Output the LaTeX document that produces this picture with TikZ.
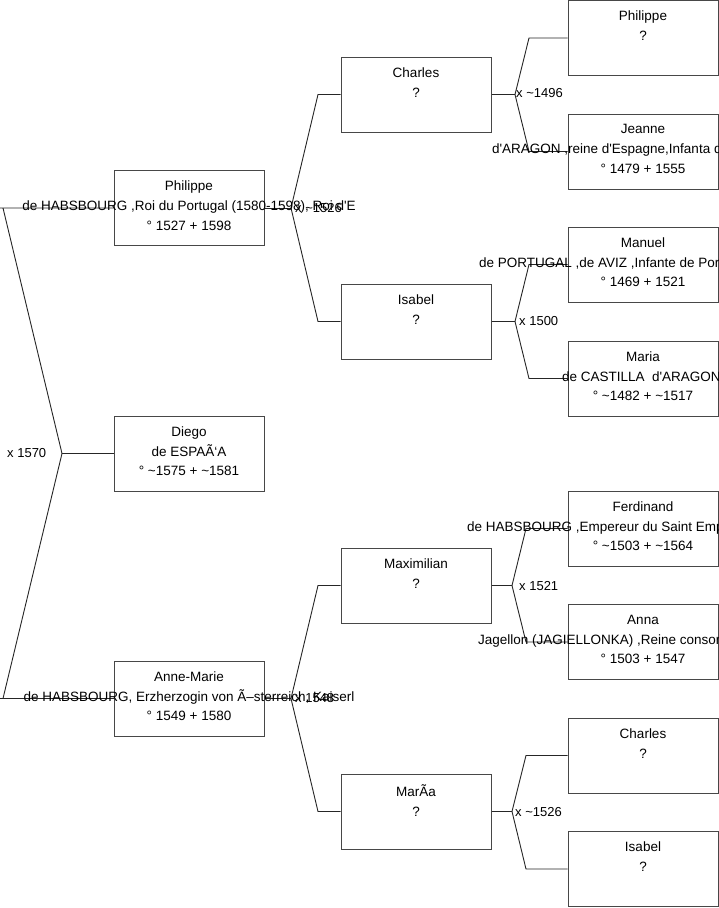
\documentclass[tikz,border=0pt]{standalone}
\usepackage{fontspec}
\setmainfont{Liberation Sans}[Ligatures=TeXOff]
\newcommand\tld{\textasciitilde}
\newcommand\lft[2]{\makebox[0pt][l]{\hspace*{#1}#2}}
\newcommand\ctr[1]{\makebox[0pt]{#1}}
\begin{document}
\begin{tikzpicture}[x=1pt,y=-1pt,
  box/.style={draw=black!72, line width=1pt, minimum width=150pt, minimum height=75pt, inner sep=0pt},
  txt/.style={font=\fontsize{13.5}{19.7}\selectfont, align=center, anchor=north, inner sep=0pt},
  link/.style={draw=black!85, line width=0.9pt},
  lbl/.style={font=\fontsize{13}{15}\selectfont, inner sep=0pt, anchor=west}]
\useasboundingbox (0,0) rectangle (719,908);
\fill[white] (0,0) rectangle (719,908);
\clip (0,0) rectangle (719,908);

% boxes
\node[box] (p1) at (189,208) {};
\node[box] (d1) at (189,453.5) {};
\node[box] (a1) at (189,698.5) {};
\node[box] (c2) at (416,94.5) {};
\node[box] (i2) at (416,321.5) {};
\node[box] (m2) at (416,585.5) {};
\node[box] (r2) at (416,811.5) {};
\node[box] (ph3) at (643,38) {};
\node[box] (j3) at (643,151.5) {};
\node[box] (ma3) at (643,264.5) {};
\node[box] (mr3) at (643,378.5) {};
\node[box] (f3) at (643,528.5) {};
\node[box] (an3) at (643,642) {};
\node[box] (ch3) at (643,755.5) {};
\node[box] (is3) at (643,869) {};

% bend points
\coordinate (v0) at (62,453.5);
\coordinate (t0) at (3,208);
\coordinate (b0) at (3,698.5);
\coordinate (v1) at (291,208);
\coordinate (v1t) at (318,94.5);
\coordinate (v1b) at (318,321.5);
\coordinate (v2) at (291,698.5);
\coordinate (v2t) at (318,585.5);
\coordinate (v2b) at (318,811.5);
\coordinate (w1) at (515,94.5);
\coordinate (w1t) at (529,38);
\coordinate (w1b) at (529,151.5);
\coordinate (w2) at (515,321.5);
\coordinate (w2t) at (529,264.5);
\coordinate (w2b) at (529,378.5);
\coordinate (w3) at (512,585.5);
\coordinate (w3t) at (526,528.5);
\coordinate (w3b) at (526,642);
\coordinate (w4) at (512,811.5);
\coordinate (w4t) at (526,755.5);
\coordinate (w4b) at (526,869);

% connectors
\draw[link] (p1.west) -- (0,208) (t0) -- (v0) -- (b0);
\draw[link] (a1.west) -- (0,698.5);
\draw[link] (v0) -- (d1.west);
\draw[link] (p1.east) -- (v1);
\draw[link] (c2.west) -- (v1t) -- (v1) -- (v1b) -- (i2.west);
\draw[link] (a1.east) -- (v2);
\draw[link] (m2.west) -- (v2t) -- (v2) -- (v2b) -- (r2.west);
\draw[link] (c2.east) -- (w1);
\draw[link] (ph3.west) -- (w1t) -- (w1) -- (w1b) -- (j3.west);
\draw[link] (i2.east) -- (w2);
\draw[link] (ma3.west) -- (w2t) -- (w2) -- (w2b) -- (mr3.west);
\draw[link] (m2.east) -- (w3);
\draw[link] (f3.west) -- (w3t) -- (w3) -- (w3b) -- (an3.west);
\draw[link] (r2.east) -- (w4);
\draw[link] (ch3.west) -- (w4t) -- (w4) -- (w4b) -- (is3.west);

% marriage labels
\node[lbl] (l0) at (7,453) {x 1570};
\node[lbl] (l1) at (295,208) {x \tld1526};
\node[lbl] (l2) at (295,698.5) {x 1548};
\node[lbl] (l3) at (516,93) {x \tld1496};
\node[lbl] (l4) at (519,321) {x 1500};
\node[lbl] (l5) at (519,586) {x 1521};
\node[lbl] (l6) at (515,812) {x \tld1526};

% texts
\node[txt] (p1t) at ([yshift=-11pt]p1.north) {Philippe\\\ctr{de HABSBOURG ,Roi du Portugal (1580-1598), Roi d'E}\\° 1527 + 1598};
\node[txt] (d1t) at ([yshift=-11pt]d1.north) {Diego\\de ESPAÃ‘A\\° \tld1575 + \tld1581};
\node[txt] (a1t) at ([yshift=-11pt]a1.north) {Anne-Marie\\\ctr{de HABSBOURG, Erzherzogin von Ã–sterreich, Kaiserl}\\° 1549 + 1580};
\node[txt] (c2t) at ([yshift=-11pt]c2.north) {Charles\\?};
\node[txt] (i2t) at ([yshift=-11pt]i2.north) {Isabel\\?};
\node[txt] (m2t) at ([yshift=-11pt]m2.north) {Maximilian\\?};
\node[txt] (r2t) at ([yshift=-11pt]r2.north) {MarÃa\\?};
\node[txt] (ph3t) at ([yshift=-11pt]ph3.north) {Philippe\\?};
\node[txt] (j3t) at ([yshift=-11pt]j3.north) {Jeanne\\\lft{-151pt}{d'ARAGON ,reine d'Espagne,Infanta d}\\° 1479 + 1555};
\node[txt] (ma3t) at ([yshift=-11pt]ma3.north) {Manuel\\\lft{-164pt}{de PORTUGAL ,de AVIZ ,Infante de Port}\\° 1469 + 1521};
\node[txt] (mr3t) at ([yshift=-11pt]mr3.north) {Maria\\\lft{-81pt}{de CASTILLA\ \ d'ARAGON}\\° \tld1482 + \tld1517};
\node[txt] (f3t) at ([yshift=-11pt]f3.north) {Ferdinand\\\lft{-176pt}{de HABSBOURG ,Empereur du Saint Emp}\\° \tld1503 + \tld1564};
\node[txt] (an3t) at ([yshift=-11pt]an3.north) {Anna\\\lft{-165pt}{Jagellon (JAGIELLONKA) ,Reine consor}\\° 1503 + 1547};
\node[txt] (ch3t) at ([yshift=-11pt]ch3.north) {Charles\\?};
\node[txt] (is3t) at ([yshift=-11pt]is3.north) {Isabel\\?};
\end{tikzpicture}
\end{document}
